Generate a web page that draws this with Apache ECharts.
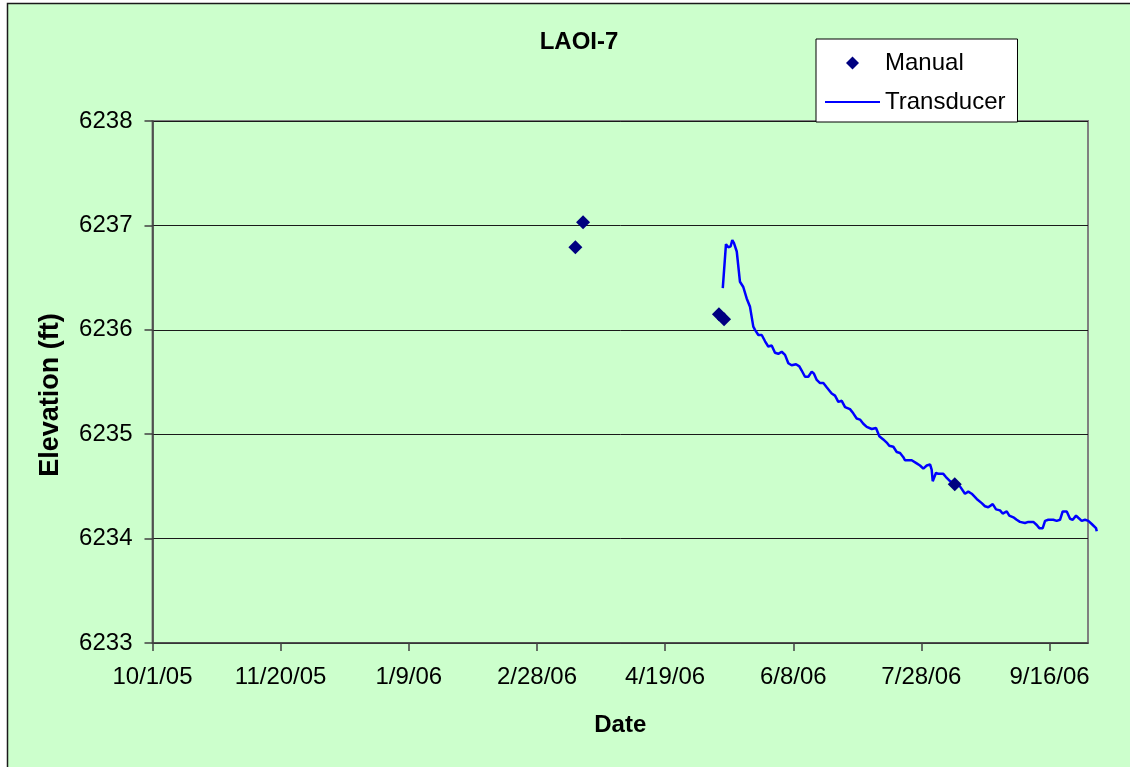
<!DOCTYPE html>
<html>
<head>
<meta charset="utf-8">
<script src="https://cdn.jsdelivr.net/npm/echarts@6/dist/echarts.min.js"></script>
<style>
  html, body { margin: 0; padding: 0; background: #ffffff; }
  #chart { width: 1130px; height: 767px; }
</style>
</head>
<body>
<div id="chart"></div>
<script>
// Axis ticks
const xTickLabels = ['10/1/05', '11/20/05', '1/9/06', '2/28/06', '4/19/06', '6/8/06', '7/28/06', '9/16/06'];
const xAxisStart = '2005-10-01 00';
const xAxisEnd = '2006-10-01 00';
const yTickValues = [6233, 6234, 6235, 6236, 6237, 6238];

// Manual water-level measurements
const manualDates = ['2006-03-15 00', '2006-03-18 00', '2006-05-10 00', '2006-05-12 00', '2006-08-10 00'];
const manualValues = [6236.79, 6237.03, 6236.15, 6236.10, 6234.52];

// Transducer record (runs a few days past the axis end)
const transducerTimes = [
  '2006-05-11 12', '2006-05-12 18', '2006-05-13 16', '2006-05-14 14', '2006-05-15 05', '2006-05-15 21',
  '2006-05-16 23', '2006-05-18 05', '2006-05-19 12', '2006-05-20 20', '2006-05-22 03', '2006-05-23 10',
  '2006-05-24 02', '2006-05-25 09', '2006-05-26 17', '2006-05-28 00', '2006-05-29 06', '2006-05-30 14',
  '2006-05-31 21', '2006-06-02 04', '2006-06-03 12', '2006-06-04 19', '2006-06-06 02', '2006-06-07 09',
  '2006-06-09 02', '2006-06-10 09', '2006-06-11 07', '2006-06-12 14', '2006-06-13 21', '2006-06-15 05',
  '2006-06-16 02', '2006-06-17 04', '2006-06-18 11', '2006-06-19 18', '2006-06-21 01', '2006-06-23 00',
  '2006-06-24 07', '2006-06-25 14', '2006-06-26 22', '2006-06-28 05', '2006-06-30 03', '2006-07-01 10',
  '2006-07-02 18', '2006-07-04 01', '2006-07-05 08', '2006-07-06 16', '2006-07-08 15', '2006-07-10 07',
  '2006-07-11 14', '2006-07-13 03', '2006-07-14 11', '2006-07-15 11', '2006-07-17 01', '2006-07-18 09',
  '2006-07-19 16', '2006-07-20 23', '2006-07-21 14', '2006-07-24 05', '2006-07-26 04', '2006-07-27 11',
  '2006-07-28 18', '2006-07-30 02', '2006-07-31 09', '2006-08-01 00', '2006-08-01 10', '2006-08-02 17',
  '2006-08-03 14', '2006-08-05 13', '2006-08-06 14', '2006-08-08 04', '2006-08-10 03', '2006-08-12 01',
  '2006-08-14 00', '2006-08-15 07', '2006-08-16 15', '2006-08-18 14', '2006-08-20 13', '2006-08-21 19',
  '2006-08-23 02', '2006-08-24 20', '2006-08-26 03', '2006-08-27 16', '2006-08-28 17', '2006-08-30 07',
  '2006-08-31 07', '2006-09-02 03', '2006-09-03 04', '2006-09-04 11', '2006-09-06 10', '2006-09-07 17',
  '2006-09-09 16', '2006-09-11 00', '2006-09-12 00', '2006-09-13 08', '2006-09-14 06', '2006-09-15 12',
  '2006-09-17 11', '2006-09-18 19', '2006-09-20 02', '2006-09-21 03', '2006-09-22 17', '2006-09-24 00',
  '2006-09-25 01', '2006-09-26 08', '2006-09-27 05', '2006-09-28 13', '2006-09-29 20', '2006-10-01 03',
  '2006-10-02 11', '2006-10-04 03', '2006-10-04 10'
];
const transducerValues = [
  6236.40, 6236.82, 6236.79, 6236.80, 6236.86, 6236.83,
  6236.75, 6236.46, 6236.41, 6236.30, 6236.22, 6236.03,
  6236.00, 6235.95, 6235.95, 6235.89, 6235.84, 6235.85,
  6235.78, 6235.77, 6235.79, 6235.76, 6235.68, 6235.66,
  6235.67, 6235.65, 6235.61, 6235.55, 6235.55, 6235.60,
  6235.58, 6235.52, 6235.49, 6235.49, 6235.45, 6235.39,
  6235.37, 6235.31, 6235.32, 6235.26, 6235.24, 6235.20,
  6235.15, 6235.14, 6235.10, 6235.07, 6235.05, 6235.06,
  6234.98, 6234.95, 6234.92, 6234.89, 6234.88, 6234.83,
  6234.82, 6234.78, 6234.75, 6234.75, 6234.72, 6234.70,
  6234.67, 6234.70, 6234.71, 6234.66, 6234.55, 6234.63,
  6234.62, 6234.62, 6234.59, 6234.55, 6234.52, 6234.50,
  6234.43, 6234.45, 6234.43, 6234.38, 6234.34, 6234.31,
  6234.30, 6234.33, 6234.28, 6234.27, 6234.24, 6234.26,
  6234.22, 6234.20, 6234.18, 6234.16, 6234.15, 6234.16,
  6234.16, 6234.13, 6234.10, 6234.10, 6234.17, 6234.18,
  6234.18, 6234.17, 6234.18, 6234.26, 6234.26, 6234.19,
  6234.18, 6234.22, 6234.20, 6234.17, 6234.18, 6234.17,
  6234.14, 6234.10, 6234.07
];
const transducerEnd = '2006-10-04 12';

// --- helpers: dates are placed on a linear "days since axis start" scale ---
const DAY = 86400000;
function parseStamp(s) {            // 'YYYY-MM-DD HH'
  const [d, h] = s.split(' ');
  const [y, m, dd] = d.split('-').map(Number);
  return Date.UTC(y, m - 1, dd, Number(h || 0));
}
function parseMDY(s) {              // 'M/D/YY'
  const [m, d, yy] = s.split('/').map(Number);
  return Date.UTC(2000 + yy, m - 1, d);
}
const origin = parseStamp(xAxisStart);
const toDay = t => (t - origin) / DAY;
function dayLabel(v) {
  const dt = new Date(origin + Math.round(v) * DAY);
  return (dt.getUTCMonth() + 1) + '/' + dt.getUTCDate() + '/' + String(dt.getUTCFullYear()).slice(2);
}

const xTicks = xTickLabels.map(s => toDay(parseMDY(s)));
const xMax = toDay(parseStamp(xAxisEnd));
const xMaxLine = toDay(parseStamp(transducerEnd));
const manualData = manualDates.map((d, i) => [toDay(parseStamp(d)), manualValues[i]]);
const transducerData = transducerTimes.map((d, i) => [toDay(parseStamp(d)), transducerValues[i]]);

const FONT = 'Arial, "Liberation Sans", Helvetica, sans-serif';
const PLOT = { left: 152.5, top: 121, width: 935.5, height: 522 };
// The transducer trace sits on an overlay grid with the same day scale,
// stretched so it can run past the plot's right edge.
const OVERLAY = {
  left: PLOT.left, top: PLOT.top, height: PLOT.height,
  width: PLOT.width * xMaxLine / xMax
};

const chart = echarts.init(document.getElementById('chart'), null, { renderer: 'canvas' });

chart.setOption({
  animation: false,
  backgroundColor: '#ffffff',
  graphic: [
    {
      type: 'rect', z: -10, silent: true,
      shape: { x: 7.5, y: 3.5, width: 1140, height: 790 },
      style: { fill: '#ccffcc', stroke: '#1a1a1a', lineWidth: 1.5 }
    }
  ],
  title: {
    text: 'LAOI-7',
    left: 574,
    top: 25,
    textAlign: 'center',
    textStyle: { fontFamily: FONT, fontSize: 24, fontWeight: 'bold', color: '#000' }
  },
  legend: {
    orient: 'vertical',
    left: 816,
    top: 39,
    padding: [12, 12, 8, 9],
    itemGap: 15,
    itemWidth: 55,
    itemHeight: 13,
    symbolKeepAspect: true,
    backgroundColor: '#ffffff',
    borderColor: '#000000',
    borderWidth: 1,
    textStyle: { fontFamily: FONT, fontSize: 24, color: '#000' },
    data: [
      { name: 'Manual', icon: 'path://M0,-1L1,0L0,1L-1,0Z', itemStyle: { color: '#000080', opacity: 1 } },
      { name: 'Transducer', icon: 'path://M0,0h55v2h-55z', itemStyle: { color: '#0000ff' } }
    ]
  },
  grid: [
    Object.assign({ show: true, backgroundColor: '#ccffcc', borderColor: '#808080', borderWidth: 2 }, PLOT),
    Object.assign({ show: false }, OVERLAY)
  ],
  xAxis: [
    {
      gridIndex: 0,
      type: 'value',
      min: 0,
      max: xMax,
      interval: xTicks[1] - xTicks[0],
      name: 'Date',
      nameLocation: 'middle',
      nameGap: 70,
      nameTextStyle: { fontFamily: FONT, fontSize: 24, fontWeight: 'bold', color: '#000' },
      axisLine: { lineStyle: { color: '#404040', width: 1.5 } },
      axisTick: { show: true, inside: false, length: 8, customValues: xTicks, lineStyle: { color: '#404040', width: 1.5 } },
      axisLabel: {
        customValues: xTicks,
        margin: 22,
        fontFamily: FONT,
        fontSize: 24,
        color: '#000',
        formatter: v => dayLabel(v)
      },
      splitLine: { show: false }
    },
    {
      gridIndex: 1,
      type: 'value',
      min: 0,
      max: xMaxLine,
      show: false
    }
  ],
  yAxis: [
    {
      gridIndex: 0,
      type: 'value',
      min: yTickValues[0],
      max: yTickValues[yTickValues.length - 1],
      interval: yTickValues[1] - yTickValues[0],
      name: 'Elevation (ft)',
      nameLocation: 'middle',
      nameRotate: 90,
      nameGap: 88,
      nameTextStyle: {
        fontFamily: FONT, fontSize: 27, fontWeight: 'bold', color: '#000',
        padding: [0, 26, 0, 0]
      },
      axisLine: { show: true, lineStyle: { color: '#404040', width: 1.5 } },
      axisTick: { show: true, inside: false, length: 8, lineStyle: { color: '#404040', width: 1.5 } },
      axisLabel: {
        margin: 20,
        fontFamily: FONT,
        fontSize: 24,
        color: '#000',
        formatter: v => String(v)
      },
      splitLine: { show: true, lineStyle: { color: '#1a1a1a', width: 1 } }
    },
    {
      gridIndex: 1,
      type: 'value',
      min: yTickValues[0],
      max: yTickValues[yTickValues.length - 1],
      show: false
    }
  ],
  series: [
    {
      name: 'Manual',
      type: 'scatter',
      xAxisIndex: 0,
      yAxisIndex: 0,
      z: 4,
      symbol: 'diamond',
      symbolSize: 14,
      itemStyle: { color: '#000080', opacity: 1 },
      data: manualData
    },
    {
      name: 'Transducer',
      type: 'line',
      xAxisIndex: 1,
      yAxisIndex: 1,
      z: 3,
      showSymbol: false,
      symbol: 'none',
      lineStyle: { color: '#0000ff', width: 2.5 },
      itemStyle: { color: '#0000ff' },
      data: transducerData
    }
  ]
});
</script>
</body>
</html>
